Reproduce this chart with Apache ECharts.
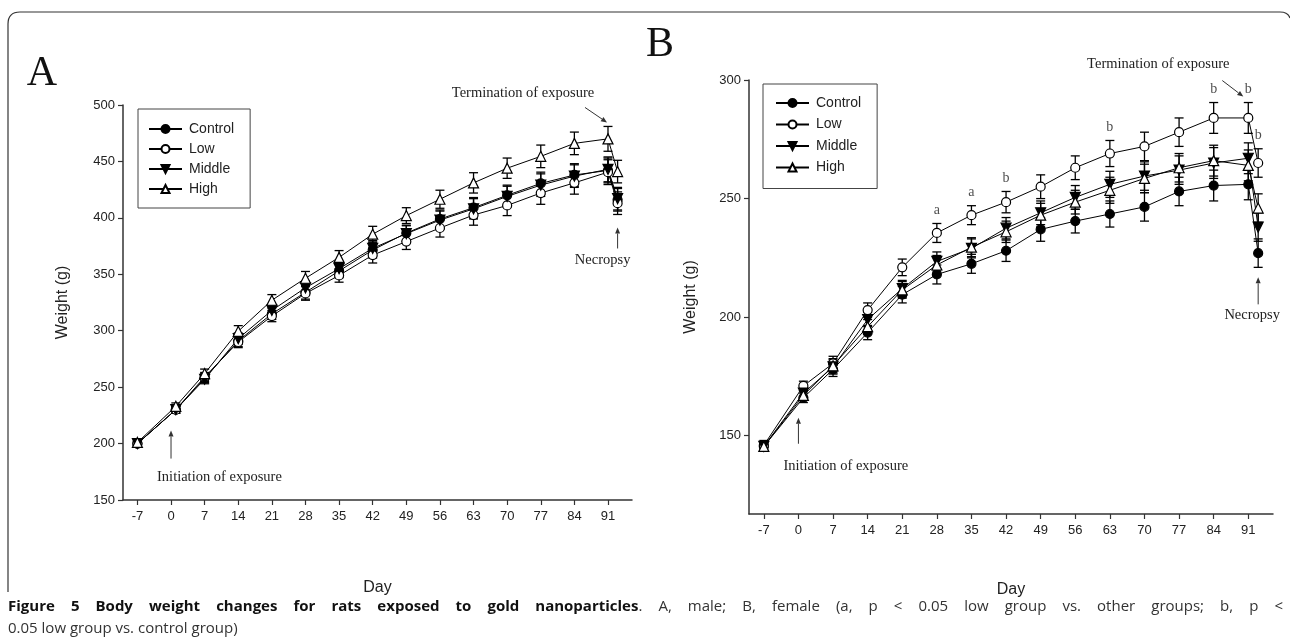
<!DOCTYPE html>
<html>
<head>
<meta charset="utf-8">
<script src="https://cdn.jsdelivr.net/npm/echarts@6/dist/echarts.min.js"></script>
<style>
  html, body { margin: 0; padding: 0; background: #fff; }
  #main { width: 1290px; height: 642px; }
</style>
</head>
<body>
<div id="main"></div>
<script>
  // x ticks (days) and the days the weights were taken (day 0 plotted at 1, necropsy at 93)
  const dayTicks = [-7, 0, 7, 14, 21, 28, 35, 42, 49, 56, 63, 70, 77, 84, 91];
  const days = [-7, 1, 7, 14, 21, 28, 35, 42, 49, 56, 63, 70, 77, 84, 91, 93];
  const groups = ['Control', 'Low', 'Middle', 'High'];

  // A, male
  const maleControl = [200, 230, 258, 291, 315, 334, 353, 371.5, 386.5, 399, 409, 420, 430.5, 438, 442, 416];
  const maleLow     = [200, 230, 259, 290, 313, 333, 349, 367, 379, 391, 402.5, 411, 422, 431, 440.5, 413];
  const maleMiddle  = [200, 230, 257, 293, 318, 338, 355, 373, 386, 398, 408, 419, 429, 437, 443, 417];
  const maleHigh    = [201, 233, 262, 299.5, 327, 346.5, 365, 385.5, 402, 416.5, 431, 444, 454.5, 466, 470, 441];
  const maleErr     = [2, 3, 4, 5, 5, 6, 6, 7, 7, 8, 9, 9, 10, 10, 11, 10];

  // B, female
  const femControl = [145.5, 166, 178, 193.5, 209.5, 218, 222.5, 228, 237, 240.5, 243.5, 246.5, 253, 255.5, 256, 227];
  const femLow     = [146, 171, 180.5, 203, 221, 235.5, 243, 248.5, 255, 263, 269, 272, 278, 284, 284, 265];
  const femMiddle  = [145.5, 168, 179, 199, 212, 223.5, 229, 237.5, 244, 250.5, 256, 259.5, 262, 265, 267, 238];
  const femHigh    = [145.5, 167, 179.5, 196, 211.5, 222, 229.5, 236, 243, 248.5, 253.5, 258.5, 263, 266, 264, 246];
  const femErr     = [2, 2, 3, 3, 3.5, 4, 4, 4.5, 5, 5, 5.5, 6, 6, 6.5, 6.5, 6];

  // significance letters above the Low group (female)
  const sigDays = [28, 35, 42, 63, 84, 91, 93];
  const sigLetters = ['a', 'a', 'b', 'b', 'b', 'b', 'b'];

  const captionBold = 'Figure 5 Body weight changes for rats exposed to gold nanoparticles';
  const captionRest = '. A, male; B, female (a, p < 0.05 low group vs. other groups; b, p <';
  const captionLine2 = '0.05 low group vs. control group)';

  const downTri = 'path://M0,0 L10,0 L5,9 Z';
  const upTri = 'path://M5,0 L10,9 L0,9 Z';
  const symbols = {
    Control: { symbol: 'circle', fill: '#000', size: 9 },
    Low: { symbol: 'circle', fill: '#fff', size: 9 },
    Middle: { symbol: downTri, fill: '#000', size: 10 },
    High: { symbol: upTri, fill: '#fff', size: 10 }
  };

  const errRender = (params, api) => {
    const x = api.value(0), y = api.value(1), e = api.value(2);
    const t = api.coord([x, y + e]);
    const b = api.coord([x, y - e]);
    const w = 4.5;
    const st = { stroke: '#000', lineWidth: 1.3 };
    return {
      type: 'group',
      children: [
        { type: 'line', shape: { x1: t[0], y1: t[1], x2: b[0], y2: b[1] }, style: st },
        { type: 'line', shape: { x1: t[0] - w, y1: t[1], x2: t[0] + w, y2: t[1] }, style: st },
        { type: 'line', shape: { x1: b[0] - w, y1: b[1], x2: b[0] + w, y2: b[1] }, style: st }
      ]
    };
  };

  const buildSeries = (axis, name, values, errs) => {
    const s = symbols[name];
    return [
      {
        type: 'custom',
        name: name + ' err',
        xAxisIndex: axis,
        yAxisIndex: axis,
        renderItem: errRender,
        data: days.map((d, i) => [d, values[i], errs[i]]),
        z: 1,
        silent: true
      },
      {
        type: 'line',
        name: name,
        xAxisIndex: axis,
        yAxisIndex: axis,
        data: days.map((d, i) => [d, values[i]]),
        symbol: s.symbol,
        symbolSize: s.size,
        showAllSymbol: true,
        lineStyle: { color: '#000', width: 1 },
        itemStyle: { color: s.fill, borderColor: '#000', borderWidth: 1.2 },
        z: 3
      }
    ];
  };

  const axisFont = { fontFamily: 'Liberation Sans', fontSize: 13, color: '#222' };
  const xAxisBase = {
    type: 'value',
    min: -10,
    max: 96,
    name: 'Day',
    nameLocation: 'middle',
    nameTextStyle: { fontFamily: 'Liberation Sans', fontSize: 16, color: '#222' },
    axisLine: { onZero: false, lineStyle: { color: '#333', width: 1.5 } },
    axisTick: { customValues: dayTicks, length: 5, lineStyle: { color: '#333', width: 1.2 } },
    axisLabel: Object.assign({ customValues: dayTicks, margin: 10 }, axisFont),
    splitLine: { show: false }
  };
  const yAxisBase = {
    type: 'value',
    name: 'Weight (g)',
    nameLocation: 'middle',
    nameTextStyle: { fontFamily: 'Liberation Sans', fontSize: 16, color: '#222' },
    axisLine: { show: true, onZero: false, lineStyle: { color: '#333', width: 1.5 } },
    axisTick: { show: true, length: 5, lineStyle: { color: '#333', width: 1.2 } },
    axisLabel: Object.assign({ margin: 8 }, axisFont),
    splitLine: { show: false }
  };

  const legendBase = {
    orient: 'vertical',
    data: groups,
    itemWidth: 33,
    itemHeight: 10,
    borderColor: '#444',
    borderWidth: 1,
    textStyle: { fontFamily: 'Liberation Sans', fontSize: 14, color: '#222', padding: [0, 0, 0, 2] },
    selectedMode: false
  };

  const series = [];
  [[maleControl, maleLow, maleMiddle, maleHigh], [femControl, femLow, femMiddle, femHigh]].forEach((set, axis) => {
    const errs = axis === 0 ? maleErr : femErr;
    set.forEach((vals, i) => series.push(...buildSeries(axis, groups[i], vals, errs)));
  });
  series.push({
    type: 'scatter',
    xAxisIndex: 1,
    yAxisIndex: 1,
    symbolSize: 1,
    itemStyle: { color: 'rgba(0,0,0,0)' },
    silent: true,
    data: sigDays.map((d, i) => {
      const k = days.indexOf(d);
      return { value: [d, femLow[k] + femErr[k]], letter: sigLetters[i] };
    }),
    label: {
      show: true,
      position: 'top',
      distance: 6,
      formatter: (p) => p.data.letter,
      fontFamily: 'Liberation Serif',
      fontSize: 14,
      color: '#222'
    }
  });

  const option = {
    animation: false,
    backgroundColor: '#fff',
    grid: [
      { left: 123, top: 105, width: 509, height: 395 },
      { left: 749, top: 80, width: 524, height: 434 }
    ],
    xAxis: [
      Object.assign({}, xAxisBase, { gridIndex: 0, nameGap: 80 }),
      Object.assign({}, xAxisBase, { gridIndex: 1, nameGap: 68 })
    ],
    yAxis: [
      Object.assign({}, yAxisBase, { gridIndex: 0, min: 150, max: 500, interval: 50, nameGap: 52 }),
      Object.assign({}, yAxisBase, {
        gridIndex: 1, min: 117, max: 300, nameGap: 50,
        axisTick: Object.assign({}, yAxisBase.axisTick, { customValues: [150, 200, 250, 300] }),
        axisLabel: Object.assign({}, yAxisBase.axisLabel, { customValues: [150, 200, 250, 300] })
      })
    ],
    legend: [
      Object.assign({}, legendBase, { left: 138, top: 109, itemGap: 6, padding: [13, 16, 12, 10] }),
      Object.assign({}, legendBase, { left: 763, top: 84, itemGap: 7.5, padding: [12, 16, 14, 12] })
    ],
    series: series
  };

  const chart = echarts.init(document.getElementById('main'));
  chart.setOption(option);

  const px = (g, d, v) => chart.convertToPixel({ gridIndex: g }, [d, v]);
  const serif = { fontFamily: 'Liberation Serif', fontSize: 14.5, fill: '#222' };
  const arrow = (x1, y1, x2, y2) => {
    const a = Math.atan2(y2 - y1, x2 - x1);
    const h = 6, s = 2.5;
    const bx = x2 - h * Math.cos(a), by = y2 - h * Math.sin(a);
    return {
      type: 'group',
      children: [
        { type: 'line', shape: { x1: x1, y1: y1, x2: bx, y2: by }, style: { stroke: '#333', lineWidth: 1 } },
        {
          type: 'polygon',
          shape: { points: [[x2, y2], [bx - s * Math.sin(a), by + s * Math.cos(a)], [bx + s * Math.sin(a), by - s * Math.cos(a)]] },
          style: { fill: '#333' }
        }
      ]
    };
  };
  const text = (x, y, str, style, align) => ({
    type: 'text',
    x: x,
    y: y,
    style: Object.assign({ text: str, align: align || 'center', verticalAlign: 'middle' }, style)
  });
  const frameStyle = { stroke: '#333', lineWidth: 1.2, fill: 'none' };

  const graphics = [];
  // outer frame: left edge, rounded top-left corner, top edge, small curl at right
  graphics.push({ type: 'polyline', shape: { points: [[8, 592], [8, 24]] }, style: frameStyle });
  graphics.push({ type: 'bezierCurve', shape: { x1: 8, y1: 24, cpx1: 8, cpy1: 12, x2: 20, y2: 12 }, style: frameStyle });
  graphics.push({ type: 'polyline', shape: { points: [[20, 12], [1280, 12]] }, style: frameStyle });
  graphics.push({ type: 'bezierCurve', shape: { x1: 1280, y1: 12, cpx1: 1288, cpy1: 12, x2: 1290, y2: 18 }, style: frameStyle });

  graphics.push(text(42, 74, 'A', { fontFamily: 'Liberation Serif', fontSize: 42, fill: '#111' }));
  graphics.push(text(660, 45, 'B', { fontFamily: 'Liberation Serif', fontSize: 42, fill: '#111' }));

  // panel A notes
  let p = px(0, 0, 200);
  graphics.push(arrow(p[0], p[1] + 15, p[0], p[1] - 13));
  graphics.push(text(p[0] - 14, p[1] + 34, 'Initiation of exposure', serif, 'left'));
  p = px(0, 91, maleHigh[14] + maleErr[14]);
  graphics.push(arrow(p[0] - 23, p[1] - 19, p[0] - 1, p[1] - 4));
  graphics.push(text(p[0] - 85, p[1] - 33, 'Termination of exposure', serif));
  p = px(0, 93, maleLow[15] - maleErr[15]);
  graphics.push(arrow(p[0], p[1] + 34, p[0], p[1] + 13));
  graphics.push(text(p[0] - 15, p[1] + 46, 'Necropsy', serif));

  // panel B notes
  p = px(1, 0, 150);
  graphics.push(arrow(p[0], p[1] + 8, p[0], p[1] - 18));
  graphics.push(text(p[0] - 15, p[1] + 30, 'Initiation of exposure', serif, 'left'));
  p = px(1, 91, femLow[14] + femErr[14]);
  graphics.push(arrow(p[0] - 26, p[1] - 22, p[0] - 5, p[1] - 6));
  graphics.push(text(p[0] - 90, p[1] - 38, 'Termination of exposure', serif));
  p = px(1, 93, femControl[15] - femErr[15]);
  graphics.push(arrow(p[0], p[1] + 37, p[0], p[1] + 10));
  graphics.push(text(p[0] - 6, p[1] + 48, 'Necropsy', serif));

  // caption: first line justified to the right edge, like the journal page
  const boldFont = { fontFamily: 'Open Sans', fontWeight: 'bold', fontSize: 15, fill: '#111' };
  const normFont = { fontFamily: 'Open Sans', fontSize: 15, fill: '#333' };
  const ctx = document.createElement('canvas').getContext('2d');
  const measure = (s, f) => {
    ctx.font = (f.fontWeight || 'normal') + ' ' + f.fontSize + 'px "' + f.fontFamily + '"';
    return ctx.measureText(s).width;
  };
  const units = captionBold.split(' ').map((w) => [[w, boldFont]]);
  captionRest.split(' ').forEach((w, i) => {
    if (i === 0) units[units.length - 1].push([w, normFont]);
    else units.push([[w, normFont]]);
  });
  const unitW = (u) => u.reduce((s, piece) => s + measure(piece[0], piece[1]), 0);
  const used = units.reduce((s, u) => s + unitW(u), 0);
  const gap = (1283 - 8 - used) / (units.length - 1);
  let cx = 8;
  units.forEach((u) => {
    u.forEach((piece) => {
      graphics.push(text(cx, 607, piece[0], piece[1], 'left'));
      cx += measure(piece[0], piece[1]);
    });
    cx += gap;
  });
  graphics.push(text(8, 629, captionLine2, normFont, 'left'));

  chart.setOption({ graphic: graphics });
</script>
</body>
</html>
